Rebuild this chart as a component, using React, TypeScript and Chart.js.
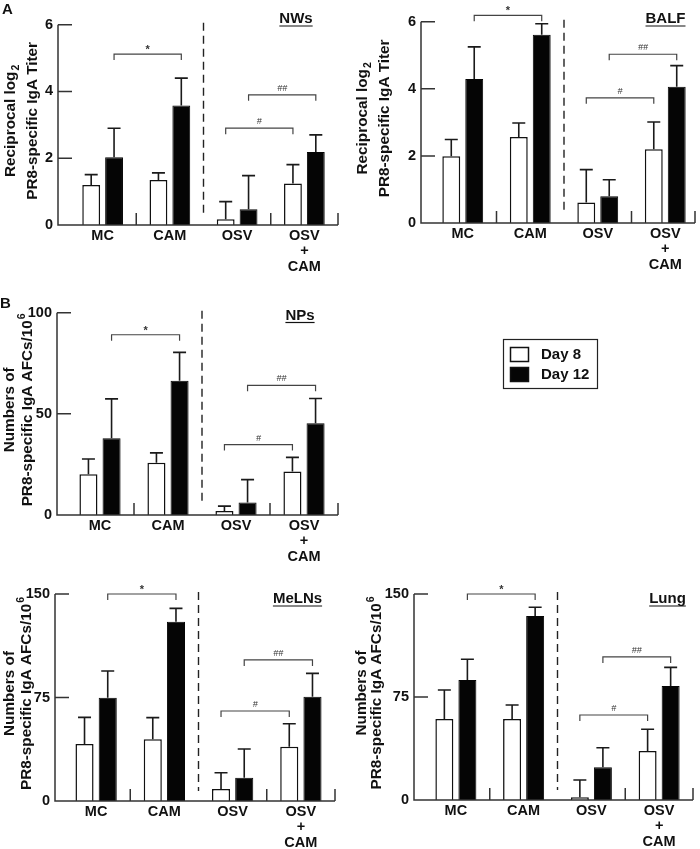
import React, { useEffect, useRef } from "react";
import { Chart, registerables } from "chart.js";

Chart.register(...registerables);

const FONT = "'Liberation Sans', Arial, Helvetica, sans-serif";
Chart.defaults.font.family = FONT;

// ---------- data ----------
const categories: (string | string[])[] = ["MC", "CAM", "OSV", ["OSV", "+", "CAM"]];
const seriesLabels = ["Day 8", "Day 12"];

// A: NWs (reciprocal log2 titer)
const nwsDay8 = [1.2, 1.35, 0.17, 1.24];
const nwsDay8Err = [0.31, 0.21, 0.53, 0.57];
const nwsDay12 = [2.03, 3.58, 0.47, 2.19];
const nwsDay12Err = [0.87, 0.82, 1.01, 0.51];
const nwsSig = [5.12, 3.9, 2.9];

// A: BALF
const balfDay8 = [1.99, 2.56, 0.61, 2.2];
const balfDay8Err = [0.5, 0.42, 0.98, 0.81];
const balfDay12 = [4.29, 5.61, 0.8, 4.06];
const balfDay12Err = [0.96, 0.33, 0.49, 0.63];
const balfSig = [6.19, 5.03, 3.73];

// B: NPs (AFCs / 10^6)
const npsDay8 = [20.1, 25.8, 2.0, 21.5];
const npsDay8Err = [7.6, 4.9, 2.4, 7.0];
const npsDay12 = [38.0, 66.4, 6.2, 45.4];
const npsDay12Err = [19.4, 14.0, 11.3, 12.2];
const npsSig = [89.1, 64.1, 34.8];

// B: MeLNs
const melnsDay8 = [41.3, 44.7, 8.7, 39.3];
const melnsDay8Err = [19.3, 15.7, 11.8, 16.7];
const melnsDay12 = [74.9, 129.9, 16.9, 75.6];
const melnsDay12Err = [19.3, 9.7, 20.8, 16.9];
const melnsSig = [150.0, 102.2, 65.2];

// B: Lung
const lungDay8 = [59.0, 59.0, 2.0, 35.7];
const lungDay8Err = [21.1, 10.2, 12.6, 15.8];
const lungDay12 = [87.4, 134.0, 23.8, 83.0];
const lungDay12Err = [15.1, 6.3, 14.3, 13.6];
const lungSig = [150.0, 104.2, 61.9];

// significance brackets: [category, series] -> [category, series]
const sigLabels = ["*", "##", "#"];
const sigPairs: number[][][] = [
  [[0, 1], [1, 1]],
  [[2, 1], [3, 1]],
  [[2, 0], [3, 0]],
];

const titleLines = {
  titer: [["Reciprocal log", "2", "sub"], ["PR8-specific IgA Titer", "", ""]],
  afc: [["Numbers of", "", ""], ["PR8-specific IgA AFCs/10", "6", "sup"]],
};

// ---------- panels (layout) ----------
type Panel = {
  key: string;
  title: string;
  left: number; top: number; w: number; h: number;
  plotLeft: number; plotRight: number; plotTop: number; plotBottom: number;
  axisX: number; axisEnd: number;
  yMax: number; step: number;
  d8: number[]; e8: number[]; d12: number[]; e12: number[]; sig: number[];
  titleX: number; titleY: number;
  yTitle: string[][]; yTitleX: [number, number];
  legend?: boolean;
};

const panels: Panel[] = [
  {
    key: "nws", title: "NWs", left: 0, top: 0, w: 350, h: 282,
    plotLeft: 69, plotRight: 338, plotTop: 20, plotBottom: 225, axisX: 58, axisEnd: 338,
    yMax: 6, step: 2, d8: nwsDay8, e8: nwsDay8Err, d12: nwsDay12, e12: nwsDay12Err, sig: nwsSig,
    titleX: 296, titleY: 19, yTitle: titleLines.titer, yTitleX: [11, 33],
  },
  {
    key: "balf", title: "BALF", left: 350, top: 0, w: 350, h: 282,
    plotLeft: 79, plotRight: 349, plotTop: 16, plotBottom: 223, axisX: 71, axisEnd: 345,
    yMax: 6, step: 2, d8: balfDay8, e8: balfDay8Err, d12: balfDay12, e12: balfDay12Err, sig: balfSig,
    titleX: 315.5, titleY: 19, yTitle: titleLines.titer, yTitleX: [13, 35],
  },
  {
    key: "nps", title: "NPs", left: 0, top: 290, w: 700, h: 282,
    plotLeft: 66, plotRight: 338, plotTop: 21, plotBottom: 225, axisX: 57, axisEnd: 338,
    yMax: 100, step: 50, d8: npsDay8, e8: npsDay8Err, d12: npsDay12, e12: npsDay12Err, sig: npsSig,
    titleX: 300, titleY: 25.5, yTitle: titleLines.afc, yTitleX: [10, 28], legend: true,
  },
  {
    key: "melns", title: "MeLNs", left: 0, top: 560, w: 350, h: 289,
    plotLeft: 62, plotRight: 335, plotTop: 34, plotBottom: 241, axisX: 55, axisEnd: 335,
    yMax: 150, step: 75, d8: melnsDay8, e8: melnsDay8Err, d12: melnsDay12, e12: melnsDay12Err, sig: melnsSig,
    titleX: 297.5, titleY: 39, yTitle: titleLines.afc, yTitleX: [10, 27],
  },
  {
    key: "lung", title: "Lung", left: 350, top: 560, w: 350, h: 289,
    plotLeft: 72, plotRight: 343, plotTop: 34, plotBottom: 240, axisX: 64, axisEnd: 343,
    yMax: 150, step: 75, d8: lungDay8, e8: lungDay8Err, d12: lungDay12, e12: lungDay12Err, sig: lungSig,
    titleX: 317.5, titleY: 39, yTitle: titleLines.afc, yTitleX: [11.5, 27],
  },
];

const INK = "#111111";
const AXIS = "#333333";
const YT_SIZE = 15.3;

function drawRotatedLine(ctx: CanvasRenderingContext2D, parts: string[], cx: number, cy: number) {
  const [main, extra, kind] = parts;
  ctx.save();
  ctx.translate(cx, cy);
  ctx.rotate(-Math.PI / 2);
  ctx.fillStyle = INK;
  ctx.textBaseline = "middle";
  ctx.textAlign = "left";
  ctx.font = `bold ${YT_SIZE}px ${FONT}`;
  const wMain = ctx.measureText(main).width;
  ctx.font = `bold 10.5px ${FONT}`;
  const wExtra = extra ? ctx.measureText(extra).width + 1 : 0;
  const start = -(wMain + wExtra) / 2;
  ctx.font = `bold ${YT_SIZE}px ${FONT}`;
  ctx.fillText(main, start, 0);
  if (extra) {
    ctx.font = `bold 10.5px ${FONT}`;
    ctx.fillText(extra, start + wMain + 1, kind === "sub" ? 5 : -6);
  }
  ctx.restore();
}

function makeDecor(p: Panel) {
  return {
    id: "decor_" + p.key,
    afterDraw(chart: any) {
      const ctx: CanvasRenderingContext2D = chart.ctx;
      const ca = chart.chartArea;
      const xs = chart.scales.x;
      const ys = chart.scales.y;
      const errs = [p.e8, p.e12];
      ctx.save();

      // error bars (upper only)
      errs.forEach((e, di) => {
        const meta = chart.getDatasetMeta(di);
        const vals = chart.data.datasets[di].data as number[];
        meta.data.forEach((bar: any, i: number) => {
          const y0 = ys.getPixelForValue(vals[i]);
          const y1 = ys.getPixelForValue(vals[i] + e[i]);
          ctx.strokeStyle = "#1a1a1a";
          ctx.lineWidth = 1.6;
          ctx.beginPath();
          ctx.moveTo(bar.x, y0);
          ctx.lineTo(bar.x, y1);
          ctx.moveTo(bar.x - 6.5, y1);
          ctx.lineTo(bar.x + 6.5, y1);
          ctx.stroke();
        });
      });

      // axes
      const ax = p.axisX;
      const yb = ys.getPixelForValue(0);
      const yt = ys.getPixelForValue(p.yMax);
      ctx.strokeStyle = AXIS;
      ctx.lineWidth = 1.5;
      ctx.beginPath();
      ctx.moveTo(ax, yt);
      ctx.lineTo(ax, yb);
      ctx.lineTo(p.axisEnd, yb);
      ys.ticks.forEach((t: any) => {
        if (t.value === 0) return;
        const y = ys.getPixelForValue(t.value);
        ctx.moveTo(ax, y);
        ctx.lineTo(ax + 14, y);
      });
      const mid = (a: number, b: number) => (xs.getPixelForValue(a) + xs.getPixelForValue(b)) / 2;
      [mid(0, 1), mid(2, 3), p.axisEnd].forEach((x) => {
        ctx.moveTo(x, yb);
        ctx.lineTo(x, yb - 12);
      });
      ctx.stroke();

      // dashed separator
      const dx = mid(1, 2);
      ctx.save();
      ctx.setLineDash([8, 5]);
      ctx.lineWidth = 1.4;
      ctx.strokeStyle = "#222";
      ctx.beginPath();
      ctx.moveTo(dx, yt - 2);
      ctx.lineTo(dx, yb - 10);
      ctx.stroke();
      ctx.restore();

      // significance brackets
      sigPairs.forEach((pair, k) => {
        const [[c1, s1], [c2, s2]] = pair;
        const x1 = chart.getDatasetMeta(s1).data[c1].x;
        const x2 = chart.getDatasetMeta(s2).data[c2].x;
        const y = ys.getPixelForValue(p.sig[k]);
        ctx.strokeStyle = "#444";
        ctx.lineWidth = 1.2;
        ctx.beginPath();
        ctx.moveTo(x1, y + 6);
        ctx.lineTo(x1, y);
        ctx.lineTo(x2, y);
        ctx.lineTo(x2, y + 6);
        ctx.stroke();
        const lab = sigLabels[k];
        ctx.fillStyle = "#333";
        ctx.textAlign = "center";
        ctx.textBaseline = "alphabetic";
        ctx.font = lab === "*" ? `bold 11px ${FONT}` : `italic 9px ${FONT}`;
        ctx.fillText(lab, (x1 + x2) / 2, lab === "*" ? y - 1 : y - 4);
      });

      // panel title (underlined)
      ctx.font = `bold 15px ${FONT}`;
      ctx.fillStyle = INK;
      ctx.textAlign = "center";
      ctx.textBaseline = "middle";
      ctx.fillText(p.title, p.titleX, p.titleY);
      const tw = ctx.measureText(p.title).width;
      ctx.strokeStyle = INK;
      ctx.lineWidth = 1.2;
      ctx.beginPath();
      ctx.moveTo(p.titleX - tw / 2, p.titleY + 7);
      ctx.lineTo(p.titleX + tw / 2, p.titleY + 7);
      ctx.stroke();

      // y-axis title (two rotated lines)
      const cy = (ca.top + ca.bottom) / 2 - 4;
      drawRotatedLine(ctx, p.yTitle[0], p.yTitleX[0], cy);
      drawRotatedLine(ctx, p.yTitle[1], p.yTitleX[1], cy);

      // legend
      if (p.legend) {
        const bx = 503.5, by = 49.5;
        ctx.strokeStyle = "#222";
        ctx.lineWidth = 1.2;
        ctx.strokeRect(bx, by, 94, 49);
        chart.data.datasets.forEach((ds: any, i: number) => {
          const sy = 57.5 + i * 20;
          ctx.fillStyle = ds.backgroundColor;
          ctx.fillRect(510.5, sy, 18, 14);
          ctx.strokeStyle = "#111";
          ctx.lineWidth = 1.5;
          ctx.strokeRect(510.5, sy, 18, 14);
          ctx.fillStyle = INK;
          ctx.font = `bold 15px ${FONT}`;
          ctx.textAlign = "left";
          ctx.textBaseline = "middle";
          ctx.fillText(ds.label, 541, sy + 7.5);
        });
      }
      ctx.restore();
    },
  };
}

function PanelChart({ p }: { p: Panel }) {
  const ref = useRef<HTMLCanvasElement>(null);
  useEffect(() => {
    const chart = new Chart(ref.current as HTMLCanvasElement, {
      type: "bar",
      data: {
        labels: categories as any,
        datasets: [
          {
            label: seriesLabels[0],
            data: p.d8,
            backgroundColor: "#ffffff",
            borderColor: "#111111",
            borderWidth: 1.5,
            categoryPercentage: 0.68,
            barPercentage: 0.78,
          },
          {
            label: seriesLabels[1],
            data: p.d12,
            backgroundColor: "#050505",
            borderColor: "#050505",
            borderWidth: 1,
            categoryPercentage: 0.68,
            barPercentage: 0.78,
          },
        ],
      },
      options: {
        responsive: false,
        animation: false,
        devicePixelRatio: 1,
        layout: { padding: { top: p.plotTop, left: 0, right: p.w - p.plotRight, bottom: 0 } },
        plugins: { legend: { display: false }, tooltip: { enabled: false }, title: { display: false } },
        scales: {
          x: {
            type: "category",
            grid: { display: false, drawTicks: false },
            border: { display: false },
            ticks: {
              color: INK,
              font: { size: 14.5, weight: "bold", lineHeight: 1.07 },
              padding: 3,
              maxRotation: 0,
              autoSkip: false,
            },
            afterFit: (s: any) => { s.height = p.h - p.plotBottom; },
          },
          y: {
            min: 0,
            max: p.yMax,
            grid: { display: false, drawTicks: false },
            border: { display: false },
            ticks: {
              stepSize: p.step,
              color: INK,
              font: { size: 14.5, weight: "bold" },
              padding: p.plotLeft - p.axisX + 5,
            },
            afterFit: (s: any) => { s.width = p.plotLeft; },
          },
        },
      } as any,
      plugins: [makeDecor(p)],
    });
    return () => chart.destroy();
  }, [p]);
  return (
    <canvas
      ref={ref}
      width={p.w}
      height={p.h}
      style={{ position: "absolute", left: p.left, top: p.top, width: p.w, height: p.h }}
    />
  );
}

export default function App() {
  return (
    <div style={{ position: "absolute", left: 0, top: 0, width: 700, height: 849, background: "#fff", overflow: "hidden" }}>
      {panels.map((p) => (
        <PanelChart key={p.key} p={p} />
      ))}
      <div style={{ position: "absolute", left: 2, top: 1, font: `bold 15px/1 ${FONT}`, color: INK }}>A</div>
      <div style={{ position: "absolute", left: 0, top: 295, font: `bold 15px/1 ${FONT}`, color: INK }}>B</div>
    </div>
  );
}
